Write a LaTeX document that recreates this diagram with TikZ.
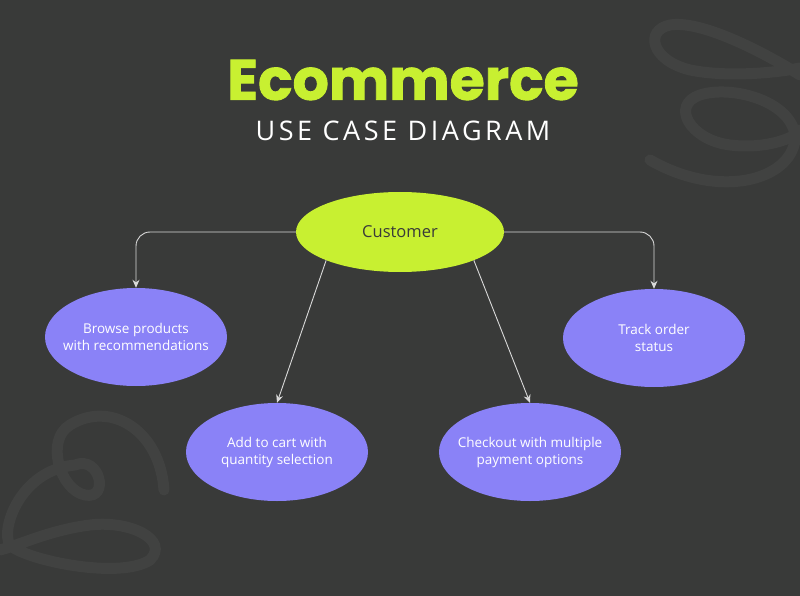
\documentclass[tikz,border=0pt]{standalone}
\usepackage{fontspec}
\setmainfont{Open Sans}
\newfontfamily\titlefont{Poppins}[BoldFeatures={FakeBold=1.5}]
\usetikzlibrary{shapes.geometric,arrows.meta}
\definecolor{bg}{HTML}{393A39}
\definecolor{swirl}{HTML}{414241}
\definecolor{lime}{HTML}{C8F031}
\definecolor{violet}{HTML}{8A82F7}
\begin{document}
\begin{tikzpicture}[x=1pt,y=-1pt,
  uc/.style={ellipse,fill=violet,minimum width=182pt,minimum height=98pt,inner xsep=-20pt,inner ysep=0pt,text=white,font=\fontsize{13.5}{17}\selectfont,align=center},
  conn/.style={draw=white!85!black,line width=0.9pt,-{Stealth[length=8pt,width=7pt]}},
  sw/.style={draw=swirl,line width=11pt,line cap=round}]
\useasboundingbox (0,0) rectangle (800,596);
\fill[bg] (0,0) rectangle (800,596);
% swirls
\draw[sw] (164,490) .. controls (160,430) and (110,400) .. (70,425) .. controls (45,440) and (60,490) .. (85,495) .. controls (110,500) and (100,455) .. (75,465) .. controls (20,470) and (0,530) .. (10,545) .. controls (25,560) and (120,580) .. (150,560) .. controls (170,540) and (130,520) .. (90,525) .. controls (50,530) and (20,545) .. (0,550);
\draw[sw] (800,75) .. controls (760,50) and (700,20) .. (670,25) .. controls (645,30) and (650,60) .. (690,70) .. controls (730,78) and (780,72) .. (800,68);
\draw[sw] (795,135) .. controls (790,100) and (730,85) .. (700,95) .. controls (670,105) and (690,140) .. (730,145) .. controls (770,150) and (800,135) .. (800,130);
\draw[sw] (795,140) .. controls (790,180) and (720,200) .. (650,160);
% title
\node (title) at (403,80) {\titlefont\bfseries\fontsize{57}{62}\selectfont\color{lime}Ecommerce};
\node (sub) at (403,131) {\fontsize{27}{30}\selectfont\color{white}\addfontfeature{LetterSpace=13}USE CASE DIAGRAM};
% nodes
\node[ellipse,fill=lime,minimum width=208pt,minimum height=80pt,inner sep=0pt,font=\fontsize{16.5}{20}\selectfont,text=bg] (cust) at (400,232) {Customer};
\node[uc] (browse) at (136,337) {Browse products\\with recommendations};
\node[uc] (cart) at (277,452) {Add to cart with\\quantity selection};
\node[uc] (check) at (530,452) {Checkout with multiple\\payment options};
\node[uc] (track) at (654,338) {Track order\\status};
% connectors
\draw[conn,rounded corners=14pt] (cust.west) -| (browse.north);
\draw[conn,rounded corners=14pt] (cust.east) -| (track.north);
\draw[conn] (cust.-159) -- (cart.north);
\draw[conn] (cust.-21) -- (check.north);
\end{tikzpicture}
\end{document}
